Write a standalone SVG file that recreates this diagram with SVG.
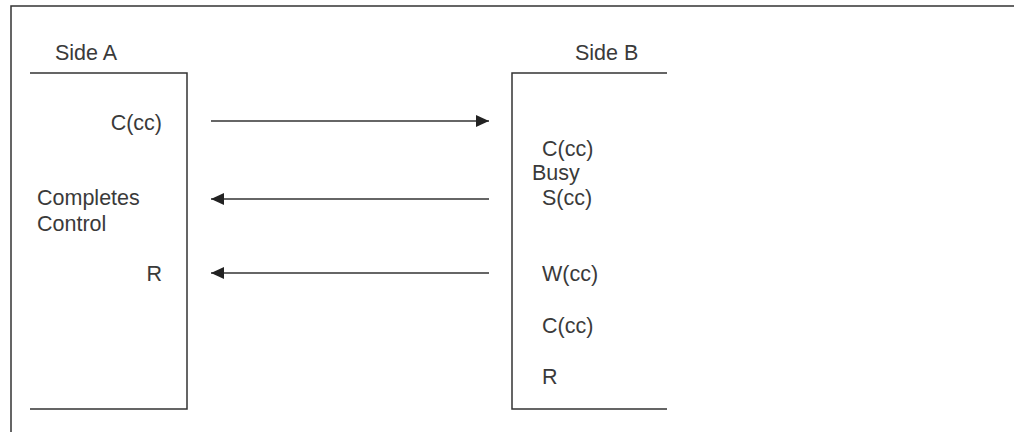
<svg xmlns="http://www.w3.org/2000/svg" width="1014" height="432" viewBox="0 0 1014 432">
  <style>
    .ln { stroke: #333; stroke-width: 1.5; fill: none; }
    .t { font-family: "Liberation Sans", Arial, sans-serif; font-size: 21.5px; fill: #3a3a3a; }
    .e { text-anchor: end; }
  </style>
  <defs>
    <marker id="ah" viewBox="0 0 13 12" refX="13" refY="6" markerWidth="13" markerHeight="12" markerUnits="userSpaceOnUse" orient="auto">
      <path d="M0,0 L13,6 L0,12 Z" fill="#222"/>
    </marker>
  </defs>
  <rect width="1014" height="432" fill="#fff"/>
  <g id="frame">
    <path class="ln" d="M11,432 V6 H1014"/>
  </g>
  <g id="sideA">
    <path class="ln" d="M30,73 H187 V409 H30"/>
    <text class="t" x="55" y="60">Side A</text>
    <text class="t e" x="162" y="130">C(cc)</text>
    <text class="t" x="37" y="205">Completes</text>
    <text class="t" x="37" y="231">Control</text>
    <text class="t e" x="162" y="281">R</text>
  </g>
  <g id="sideB">
    <path class="ln" d="M667,73 H512 V409 H667"/>
    <text class="t" x="575" y="60">Side B</text>
    <text class="t" x="542" y="156">C(cc)</text>
    <text class="t" x="532" y="180">Busy</text>
    <text class="t" x="542" y="205">S(cc)</text>
    <text class="t" x="542" y="281">W(cc)</text>
    <text class="t" x="542" y="333">C(cc)</text>
    <text class="t" x="542" y="384">R</text>
  </g>
  <g id="connectors">
    <line class="ln" x1="211" y1="121" x2="489" y2="121" marker-end="url(#ah)"/>
    <line class="ln" x1="489" y1="199" x2="211" y2="199" marker-end="url(#ah)"/>
    <line class="ln" x1="489" y1="273" x2="211" y2="273" marker-end="url(#ah)"/>
  </g>
</svg>
